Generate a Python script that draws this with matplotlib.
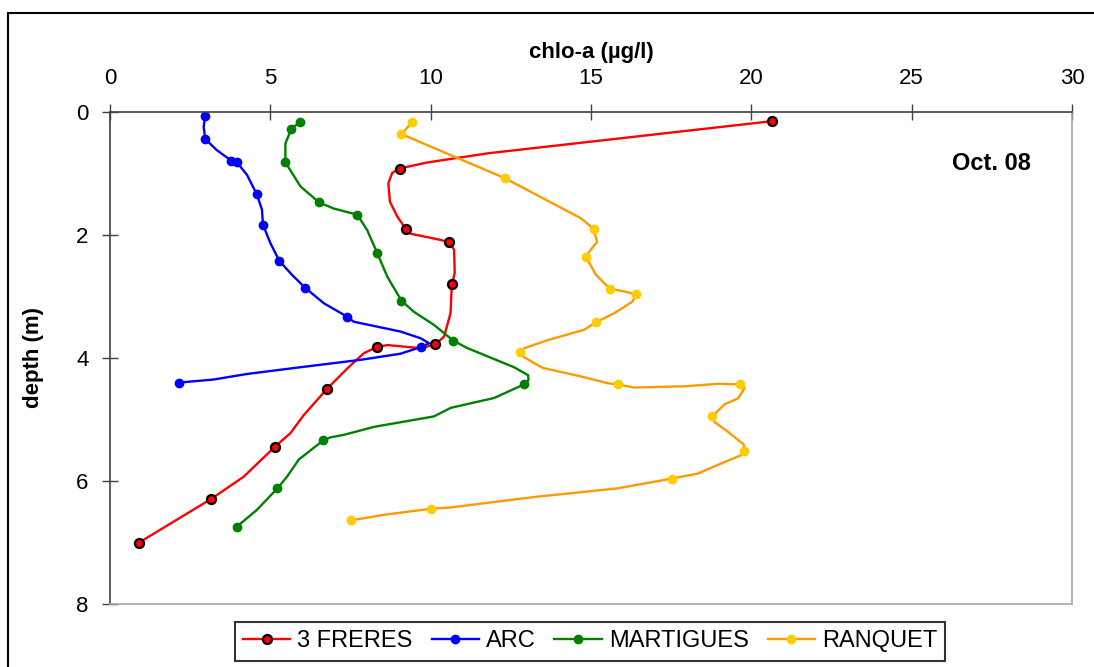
import matplotlib
matplotlib.use('Agg')
import matplotlib.pyplot as plt
from matplotlib.patches import Rectangle

plt.rcParams['font.family'] = ['Liberation Sans', 'DejaVu Sans']

# 3 FRERES
freres_chl = [20.63, 11.81, 9.90, 9.37, 9.03, 8.80, 8.68, 8.73, 8.96, 9.22, 9.38, 10.31,
              10.58, 10.73, 10.75, 10.66, 10.62, 10.42, 10.15, 9.69, 8.65, 8.33, 7.92,
              7.40, 6.77, 6.04, 5.63, 5.15, 4.17, 3.16, 0.91]
freres_depth = [0.15, 0.67, 0.82, 0.88, 0.92, 0.99, 1.16, 1.46, 1.70, 1.90, 1.98, 2.08,
                2.12, 2.24, 2.62, 2.80, 3.27, 3.65, 3.78, 3.84, 3.79, 3.82, 3.92,
                4.17, 4.50, 4.93, 5.22, 5.44, 5.93, 6.29, 7.00]
freres_mk = [0, 4, 9, 12, 15, 18, 21, 24, 27, 29, 30]

# ARC
arc_chl = [2.97, 2.92, 2.97, 3.33, 3.78, 3.96, 4.27, 4.58, 4.74, 4.77, 5.00, 5.28, 5.68,
           6.09, 6.67, 7.40, 7.60, 8.33, 9.06, 9.69, 9.95, 9.71, 9.06, 7.81, 5.94, 4.27,
           3.23, 2.15]
arc_depth = [0.07, 0.24, 0.44, 0.62, 0.79, 0.82, 1.02, 1.34, 1.59, 1.83, 2.13, 2.42, 2.65,
             2.86, 3.11, 3.33, 3.41, 3.49, 3.57, 3.68, 3.76, 3.82, 3.93, 4.03, 4.15, 4.26,
             4.35, 4.40]
arc_mk = [0, 2, 4, 5, 7, 9, 11, 13, 15, 21, 27]

# MARTIGUES
mart_chl = [5.91, 5.66, 5.47, 5.47, 5.94, 6.52, 6.98, 7.71, 8.02, 8.33, 8.65, 9.09, 9.48,
            10.10, 10.71, 11.15, 12.60, 13.04, 13.05, 12.91, 11.98, 10.63, 10.10, 8.23,
            7.29, 6.88, 6.65, 5.89, 5.52, 5.22, 4.58, 3.96]
mart_depth = [0.17, 0.27, 0.51, 0.82, 1.21, 1.47, 1.57, 1.67, 1.92, 2.29, 2.68, 3.07, 3.25,
              3.46, 3.72, 3.84, 4.15, 4.28, 4.36, 4.43, 4.65, 4.81, 4.95, 5.12,
              5.25, 5.29, 5.34, 5.65, 5.93, 6.12, 6.47, 6.74]
mart_mk = [0, 1, 3, 5, 7, 9, 11, 14, 19, 26, 29, 31]

# RANQUET
ranq_chl = [9.41, 9.09, 12.33, 13.13, 14.69, 15.08, 15.19, 14.83, 15.16, 15.58, 16.40,
            16.30, 15.73, 15.15, 14.79, 13.65, 12.92, 12.78, 12.92, 13.49, 14.69, 15.52,
            15.83, 16.35, 17.92, 18.96, 19.65, 19.79, 19.58, 19.17, 18.78, 18.85, 19.27,
            19.77, 19.77, 19.69, 19.17, 18.33, 17.52, 15.83, 13.23, 10.63, 10.02, 8.54, 7.52]
ranq_depth = [0.17, 0.36, 1.08, 1.30, 1.73, 1.90, 2.11, 2.35, 2.65, 2.87, 2.96,
              3.08, 3.27, 3.42, 3.54, 3.71, 3.84, 3.91, 3.99, 4.16, 4.30, 4.41,
              4.43, 4.48, 4.46, 4.42, 4.43, 4.49, 4.66, 4.75, 4.95, 5.04, 5.20,
              5.41, 5.51, 5.58, 5.69, 5.88, 5.96, 6.12, 6.26, 6.43, 6.45, 6.55, 6.64]
ranq_mk = [0, 1, 2, 5, 7, 9, 10, 13, 17, 22, 26, 30, 34, 38, 42, 44]

fig = plt.figure(figsize=(10.94, 6.67), dpi=100)
ax = fig.add_axes([110 / 1094, 1 - 604 / 667, (1072 - 110) / 1094, (604 - 112) / 667])

ax.plot(freres_chl, freres_depth, color='#FF0000', lw=1.7, marker='o', markevery=freres_mk,
        ms=6.5, mfc='#FF0000', mec='black', mew=1.6, label='3 FRERES')
ax.plot(arc_chl, arc_depth, color='#0000FF', lw=1.7, marker='o', markevery=arc_mk,
        ms=6, mfc='#0000FF', mec='#0000FF', label='ARC')
ax.plot(mart_chl, mart_depth, color='#008000', lw=1.7, marker='o', markevery=mart_mk,
        ms=6, mfc='#008000', mec='#008000', label='MARTIGUES')
ax.plot(ranq_chl, ranq_depth, color='#FF9900', lw=1.7, marker='o', markevery=ranq_mk,
        ms=6, mfc='#FFCC00', mec='#FFCC00', label='RANQUET')

ax.set_xlim(0, 30)
ax.set_ylim(8, 0)
ax.set_xticks(range(0, 31, 5))
ax.set_yticks(range(0, 9, 2))
ax.xaxis.tick_top()
ax.xaxis.set_label_position('top')
ax.tick_params(axis='x', direction='inout', length=11, width=1, colors='#404040',
               labelcolor='black', labelsize=16, pad=11)
ax.tick_params(axis='y', direction='inout', length=11, width=1, colors='#404040',
               labelcolor='black', labelsize=16, pad=10)
ax.set_xlabel('chlo-a (µg/l)', fontsize=16, fontweight='bold', labelpad=7)
ax.set_ylabel('depth (m)', fontsize=16, fontweight='bold', labelpad=23)

for side in ['left', 'top']:
    ax.spines[side].set_color('#404040')
    ax.spines[side].set_linewidth(1.2)
for side in ['right', 'bottom']:
    ax.spines[side].set_color('#A8A8A8')
    ax.spines[side].set_linewidth(1.2)

ax.text(27.5, 0.83, 'Oct. 08', fontsize=17, fontweight='bold', ha='center', va='center')

leg = fig.legend(loc='upper center', bbox_to_anchor=(590 / 1094, 1 - 622 / 667), ncol=4,
                 fontsize=17, frameon=True, fancybox=False, edgecolor='black',
                 handlelength=2.0, handletextpad=0.3, columnspacing=0.8, borderpad=0.35,
                 borderaxespad=0)
leg.get_frame().set_linewidth(1.5)

fig.patches.append(Rectangle((8 / 1094, -0.1), 2, 1 - 13 / 667 + 0.1, transform=fig.transFigure,
                             fill=False, edgecolor='black', lw=1.5, clip_on=False))

fig.savefig('out.png', dpi=100)
